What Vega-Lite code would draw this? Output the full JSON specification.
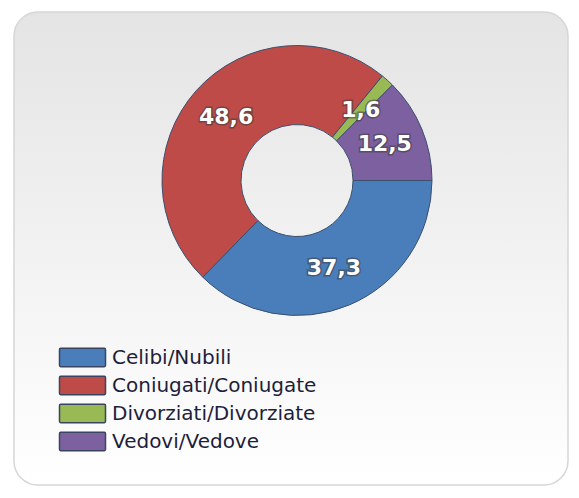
{
  "$schema": "https://vega.github.io/schema/vega-lite/v6.json",
  "width": 554,
  "height": 473,
  "padding": {"left": 14, "top": 12, "right": 11, "bottom": 13},
  "autosize": {"type": "none"},
  "background": "#ffffff",
  "view": {
    "fill": {"gradient": "linear", "x1": 0, "y1": 0, "x2": 0, "y2": 1, "stops": [{"offset": 0, "color": "#e4e4e4"}, {"offset": 1, "color": "#ffffff"}]},
    "stroke": "#d6d6d6",
    "strokeWidth": 1.5,
    "cornerRadius": 24
  },
  "data": {
    "values": [
      {"categoria": "Celibi/Nubili", "valore": 37.3, "etichetta": "37,3"},
      {"categoria": "Coniugati/Coniugate", "valore": 48.6, "etichetta": "48,6"},
      {"categoria": "Divorziati/Divorziate", "valore": 1.6, "etichetta": "1,6"},
      {"categoria": "Vedovi/Vedove", "valore": 12.5, "etichetta": "12,5"}
    ]
  },
  "encoding": {
    "theta": {"field": "valore", "type": "quantitative", "stack": true, "scale": {"range": [1.5708, 7.8540]}},
    "order": {"field": "categoria", "type": "nominal"}
  },
  "layer": [
    {
      "mark": {"type": "arc", "innerRadius": 56, "outerRadius": 135, "stroke": "#3b4f6e", "strokeWidth": 1, "x": {"expr": "width/2+6"}, "y": {"expr": "height/2-68"}},
      "encoding": {
        "color": {
          "field": "categoria",
          "type": "nominal",
          "scale": {"domain": ["Celibi/Nubili", "Coniugati/Coniugate", "Divorziati/Divorziate", "Vedovi/Vedove"], "range": ["#4a7ebb", "#be4b48", "#98b954", "#7d60a0"]},
          "legend": {
            "orient": "none",
            "legendX": 56,
            "legendY": 333,
            "title": null,
            "symbolType": "M-1.9,-0.8L1.9,-0.8Q2,-0.8 2,-0.68L2,0.68Q2,0.8 1.9,0.8L-1.9,0.8Q-2,0.8 -2,0.68L-2,-0.68Q-2,-0.8 -1.9,-0.8Z",
            "symbolSize": 529,
            "symbolStrokeColor": "#3a4460",
            "symbolStrokeWidth": 1.5,
            "symbolOpacity": 1,
            "labelFont": "DejaVu Sans",
            "labelFontSize": 20,
            "labelColor": "#1e1e3a",
            "labelOffset": 17,
            "labelLimit": 400,
            "rowPadding": 3
          }
        }
      }
    },
    {
      "mark": {"type": "text", "radius": 95, "font": "DejaVu Sans", "fontWeight": "bold", "fontSize": 22, "stroke": "#3a3a3a", "strokeWidth": 3, "strokeOpacity": 0.55, "fill": "#3a3a3a", "x": {"expr": "width/2+6"}, "y": {"expr": "height/2-68"}},
      "encoding": {"text": {"field": "etichetta"}, "detail": {"field": "categoria"}}
    },
    {
      "mark": {"type": "text", "radius": 95, "font": "DejaVu Sans", "fontWeight": "bold", "fontSize": 22, "fill": "#ffffff", "x": {"expr": "width/2+6"}, "y": {"expr": "height/2-68"}},
      "encoding": {"text": {"field": "etichetta"}, "detail": {"field": "categoria"}}
    }
  ]
}
